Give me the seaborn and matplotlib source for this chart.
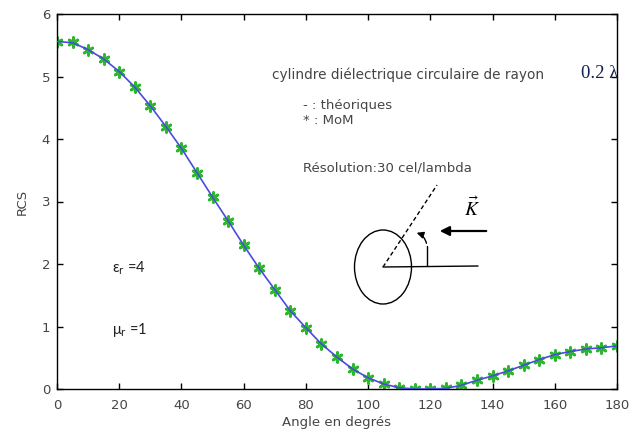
import matplotlib
matplotlib.use("Agg")
import matplotlib.pyplot as plt
import seaborn as sns
import pandas as pd
from matplotlib.patches import Ellipse

# ---- data ----
angles = [0, 5, 10, 15, 20, 25, 30, 35, 40, 45, 50, 55, 60, 65, 70, 75, 80, 85, 90,
          95, 100, 105, 110, 115, 120, 125, 130, 135, 140, 145, 150, 155, 160, 165,
          170, 175, 180]
rcs_theory = [5.56, 5.54, 5.43, 5.28, 5.08, 4.83, 4.53, 4.20, 3.85, 3.46, 3.07, 2.69,
              2.30, 1.93, 1.59, 1.25, 0.98, 0.72, 0.51, 0.32, 0.18, 0.08, 0.02, 0.0,
              0.0, 0.01, 0.06, 0.14, 0.21, 0.29, 0.38, 0.47, 0.55, 0.60, 0.64, 0.66, 0.69]
rcs_mom = [5.56, 5.55, 5.43, 5.28, 5.08, 4.83, 4.53, 4.20, 3.85, 3.46, 3.07, 2.69,
           2.30, 1.93, 1.59, 1.25, 0.98, 0.72, 0.51, 0.32, 0.18, 0.08, 0.02, 0.0,
           0.0, 0.01, 0.06, 0.14, 0.21, 0.29, 0.38, 0.47, 0.55, 0.60, 0.64, 0.66, 0.69]
xticks = [0, 20, 40, 60, 80, 100, 120, 140, 160, 180]
yticks = [0, 1, 2, 3, 4, 5, 6]

df = pd.DataFrame({"angle": angles, "theory": rcs_theory, "mom": rcs_mom})

sns.set_theme(style="white")
plt.rcParams["font.family"] = ["DejaVu Sans"]

fig = plt.figure(figsize=(6.41, 4.34), dpi=100)
ax = fig.add_axes([57 / 641, 1 - 389 / 434, 560 / 641, 375 / 434])

sns.scatterplot(data=df, x="angle", y="mom", ax=ax, marker=(6, 2, 0), s=50,
                color="#2cb82c", linewidth=2.0, edgecolor="#2cb82c", zorder=2,
                legend=False)
sns.lineplot(data=df, x="angle", y="theory", ax=ax, color="#4a4ae0", linewidth=1.2,
             zorder=3, legend=False)

ax.set_xlim(0, 180)
ax.set_ylim(0, 6)
ax.set_xticks(xticks)
ax.set_yticks(yticks)
txtc = "#454545"
ax.tick_params(direction="in", length=4, width=1, colors="black", labelcolor=txtc,
               labelsize=9.5, top=True, right=True, bottom=True, left=True)
ax.tick_params(axis="x", pad=7)
ax.tick_params(axis="y", pad=5)
for s in ax.spines.values():
    s.set_color("black")
    s.set_linewidth(1.0)
    s.set_visible(True)

ax.set_xlabel("Angle en degrés", fontsize=9.5, color=txtc, labelpad=3)
ax.set_ylabel("RCS", fontsize=9.5, color=txtc, labelpad=9)

T = ax.transAxes
def px(x, y):
    return ((x - 57) / 560, (389 - y) / 375)

# annotations
ax.text(*px(272, 75), "cylindre diélectrique circulaire de rayon", transform=T,
        fontsize=9.8, color=txtc, va="center", ha="left")
ax.text(*px(618, 74), "0.2 λ", transform=T, fontsize=13.5, color="#102050",
        family=["Liberation Serif", "DejaVu Serif"], va="center", ha="right")
ax.text(*px(303, 105), "- : théoriques", transform=T, fontsize=9.5, color=txtc,
        va="center", ha="left")
ax.text(*px(303, 120), "* : MoM", transform=T, fontsize=9.5, color=txtc,
        va="center", ha="left")
ax.text(*px(303, 168), "Résolution:30 cel/lambda", transform=T, fontsize=9.5,
        color=txtc, va="center", ha="left")

ax.text(*px(112, 268), r"ε$_\mathrm{r}$ =4", transform=T, fontsize=10.5, color="#222222",
        va="center", ha="left", family=["Lato", "DejaVu Sans"])
ax.text(*px(112, 330), r"μ$_\mathrm{r}$ =1", transform=T, fontsize=10.5, color="#222222",
        va="center", ha="left", family=["Lato", "DejaVu Sans"])

# diagram
cx, cy = px(383, 267)
ax.add_patch(Ellipse((cx, cy), 57 / 560, 74 / 375, transform=T, fill=False,
                     edgecolor="black", linewidth=1.0, zorder=4))
x2, y2 = px(478, 266)
ax.plot([cx, x2], [cy, y2], transform=T, color="black", linewidth=1.0)
x3, y3 = px(437, 185)
ax.plot([cx, x3], [cy, y3], transform=T, color="black", linewidth=1.0,
        linestyle=(0, (3, 2)))
a1 = px(427, 266)
a2 = px(427, 246)
ax.plot([a1[0], a2[0]], [a1[1], a2[1]], transform=T, color="black", linewidth=1.0)
ax.annotate("", xy=px(414, 232), xytext=a2, xycoords=T, textcoords=T,
            arrowprops=dict(arrowstyle="-|>", color="black", lw=1.0,
                            mutation_scale=10,
                            connectionstyle="arc3,rad=0.35"))
ax.annotate("", xy=px(437, 231), xytext=px(489, 231), xycoords=T, textcoords=T,
            arrowprops=dict(arrowstyle="-|>", color="black", lw=1.6,
                            mutation_scale=14))
ax.text(*px(472, 208), r"$\vec{K}$", transform=T, fontsize=14, color="black",
        math_fontfamily="stix", ha="center", va="center")

fig.savefig("out.png", dpi=100)
